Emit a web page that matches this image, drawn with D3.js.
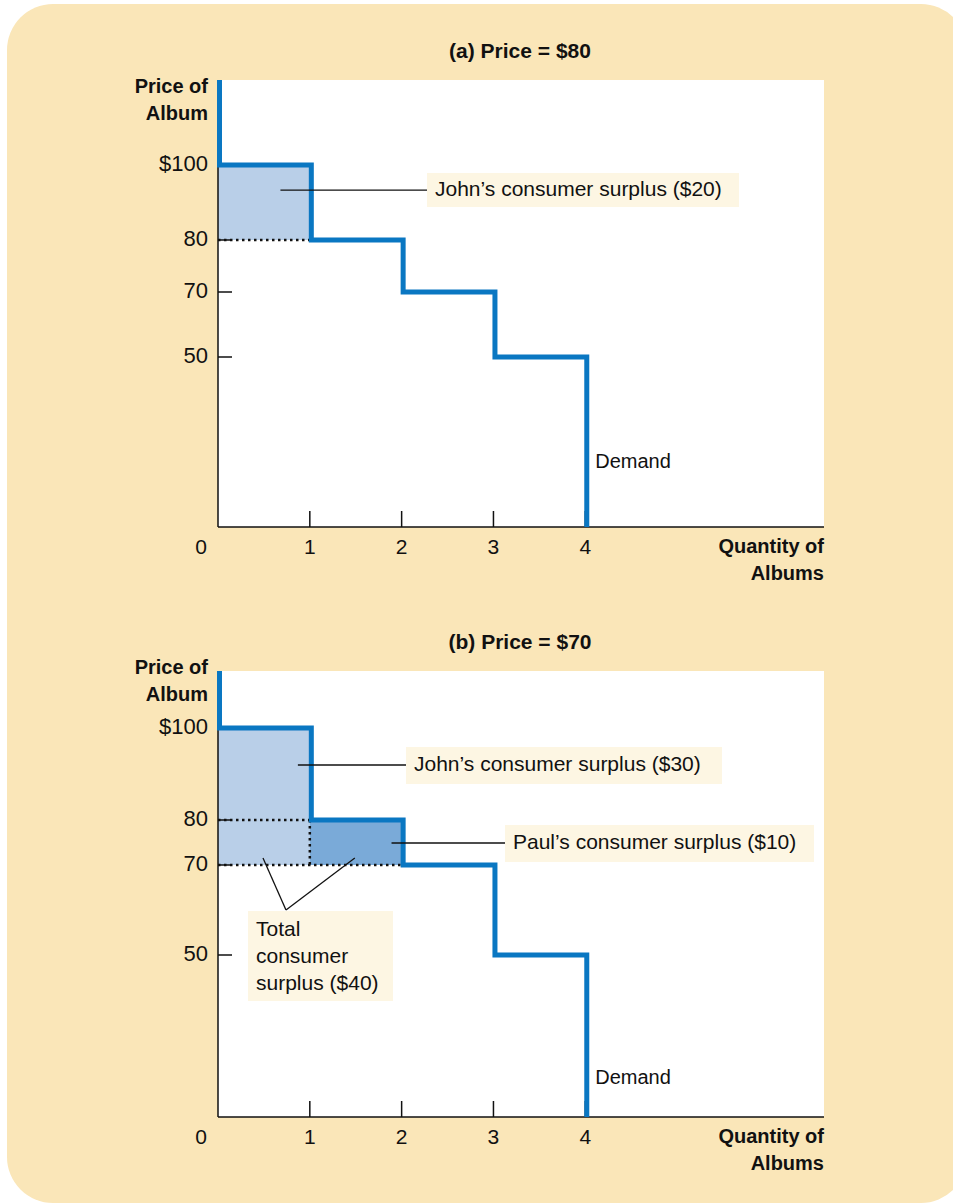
<!DOCTYPE html>
<html>
<head>
<meta charset="utf-8">
<script src="https://cdn.jsdelivr.net/npm/d3@7"></script>
<style>
  body { margin: 0; background: #fff; }
  svg text { font-family: "Liberation Sans", Arial, sans-serif; fill: #111; }
  .bold { font-family: "Liberation Sans Narrow", "Liberation Sans", Arial, sans-serif; font-weight: bold; }
</style>
</head>
<body>
<div id="wrapper"></div>
<script>
// willingness to pay of each buyer, one album each
const buyers = ["John", "Paul", "George", "Ringo"]
const willingness = [100, 80, 70, 50]
const xTicks = [0, 1, 2, 3, 4]
const yTicks = [100, 80, 70, 50]
const yTickLabels = ["$100", "80", "70", "50"]
const panelPrices = [80, 70]
const panelTitles = ["(a) Price = $80", "(b) Price = $70"]

const width = 953
const height = 1203

const svg = d3.select("#wrapper")
  .append("svg")
    .attr("width", width)
    .attr("height", height)

svg.append("rect")
    .attr("x", 7)
    .attr("y", 4)
    .attr("width", 960)
    .attr("height", 1199)
    .attr("rx", 46)
    .attr("fill", "#fae6b8")

const blue = "#0a77c2"
const lightFill = "#b9cfe8"
const darkFill = "#7aaad8"
const boxFill = "#fdf6e3"

// the price axis is a schematic, so the scale is piecewise
const panels = [
  { top: 80, bottom: 527, yStops: [527, 357, 292, 240, 165, 80], titleY: 52, yTitleOff: 8, demandOff: 64 },
  { top: 671, bottom: 1117, yStops: [1117, 955, 865, 820, 728, 671], titleY: 643, yTitleOff: -2, demandOff: 38 },
]

const xScale = d3.scaleLinear()
  .domain([0, 6.6])
  .range([218, 824])

function drawPanel(p, i) {
  const price = panelPrices[i]
  const yScale = d3.scaleLinear()
    .domain([0, 50, 70, 80, 100, 125])
    .range(p.yStops)
  const g = svg.append("g")

  g.append("rect")
      .attr("x", xScale(0))
      .attr("y", p.top)
      .attr("width", xScale.range()[1] - xScale(0))
      .attr("height", p.bottom - p.top)
      .attr("fill", "#fff")

  g.append("text")
      .attr("class", "bold")
      .attr("x", 520)
      .attr("y", p.titleY)
      .attr("text-anchor", "middle")
      .attr("dominant-baseline", "middle")
      .style("font-size", "21px")
      .text(panelTitles[i])

  // consumer surplus rectangles
  const surplus = willingness
    .map((w, j) => ({ buyer: buyers[j], q: j, w }))
    .filter(d => d.w > price)
  g.selectAll(".cs")
    .data(surplus)
    .join("rect")
      .attr("x", d => xScale(d.q))
      .attr("width", d => xScale(d.q + 1) - xScale(d.q))
      .attr("y", d => yScale(d.w))
      .attr("height", d => yScale(price) - yScale(d.w))
      .attr("fill", (d, j) => j == 0 ? lightFill : darkFill)

  // dotted lines: price level and lower steps inside the surplus area
  const dotted = g.append("g")
      .attr("stroke", "#111")
      .attr("stroke-width", 2.5)
      .attr("stroke-dasharray", "2.5,3.5")
  dotted.append("line")
      .attr("x1", xScale(0))
      .attr("x2", xScale(surplus.length))
      .attr("y1", yScale(price))
      .attr("y2", yScale(price))
  surplus.slice(1).forEach(d => {
    dotted.append("line")
        .attr("x1", xScale(0))
        .attr("x2", xScale(d.q))
        .attr("y1", yScale(d.w))
        .attr("y2", yScale(d.w))
    dotted.append("line")
        .attr("x1", xScale(d.q))
        .attr("x2", xScale(d.q))
        .attr("y1", yScale(d.w))
        .attr("y2", yScale(price))
  })

  // axes
  g.append("line")
      .attr("x1", xScale(0)).attr("x2", xScale(0))
      .attr("y1", p.top).attr("y2", p.bottom)
      .attr("stroke", "#111").attr("stroke-width", 1.5)
  g.append("line")
      .attr("x1", xScale(0)).attr("x2", xScale.range()[1])
      .attr("y1", p.bottom).attr("y2", p.bottom)
      .attr("stroke", "#111").attr("stroke-width", 1.5)

  g.selectAll(".ytick")
    .data(yTicks)
    .join("line")
      .attr("x1", xScale(0))
      .attr("x2", xScale(0) + 14)
      .attr("y1", d => yScale(d))
      .attr("y2", d => yScale(d))
      .attr("stroke", "#111")
      .attr("stroke-width", 1.5)
  g.selectAll(".ylabel")
    .data(yTicks)
    .join("text")
      .attr("x", xScale(0) - 10)
      .attr("y", d => yScale(d))
      .attr("text-anchor", "end")
      .attr("dominant-baseline", "middle")
      .style("font-size", "22px")
      .text((d, j) => yTickLabels[j])

  g.selectAll(".xtick")
    .data(xTicks.slice(1))
    .join("line")
      .attr("x1", d => xScale(d))
      .attr("x2", d => xScale(d))
      .attr("y1", p.bottom)
      .attr("y2", p.bottom - 16)
      .attr("stroke", "#111")
      .attr("stroke-width", 1.5)
  g.selectAll(".xlabel")
    .data(xTicks)
    .join("text")
      .attr("x", d => d == 0 ? xScale(0) - 17 : xScale(d))
      .attr("y", p.bottom + 21)
      .attr("text-anchor", "middle")
      .attr("dominant-baseline", "middle")
      .style("font-size", "21px")
      .text(d => d)

  // axis titles
  const yTitle = g.append("text")
      .attr("class", "bold")
      .attr("text-anchor", "end")
      .attr("dominant-baseline", "middle")
      .style("font-size", "20px")
  yTitle.append("tspan").attr("x", xScale(0) - 10).attr("y", p.top + p.yTitleOff).text("Price of")
  yTitle.append("tspan").attr("x", xScale(0) - 10).attr("y", p.top + p.yTitleOff + 27).text("Album")
  const xTitle = g.append("text")
      .attr("class", "bold")
      .attr("text-anchor", "end")
      .attr("dominant-baseline", "middle")
      .style("font-size", "20px")
  xTitle.append("tspan").attr("x", xScale.range()[1]).attr("y", p.bottom + 21).text("Quantity of")
  xTitle.append("tspan").attr("x", xScale.range()[1]).attr("y", p.bottom + 48).text("Albums")

  // demand step line
  const pts = [[0, 125]]
  willingness.forEach((w, j) => { pts.push([j, w]); pts.push([j + 1, w]) })
  pts.push([willingness.length, 0])
  g.append("path")
      .attr("d", d3.line().x(d => xScale(d[0]) + 1.5).y(d => yScale(d[1]))(pts))
      .attr("fill", "none")
      .attr("stroke", blue)
      .attr("stroke-width", 5)
      .attr("stroke-linejoin", "miter")

  g.append("text")
      .attr("x", xScale(willingness.length) + 10)
      .attr("y", yScale(0) - p.demandOff)
      .attr("dominant-baseline", "middle")
      .style("font-size", "20px")
      .text("Demand")

  return { g, yScale, surplus }
}

function labelBox(g, x, y, w, h, lines) {
  g.append("rect")
      .attr("x", x).attr("y", y)
      .attr("width", w).attr("height", h)
      .attr("fill", boxFill)
  lines.forEach((t, j) => {
    g.append("text")
        .attr("x", x + 8)
        .attr("y", y + h / 2 / lines.length + j * 27 + (lines.length > 1 ? 4 : 0))
        .attr("dominant-baseline", "middle")
        .style("font-size", "21px")
        .text(t)
  })
}

function leader(g, x1, y1, x2, y2) {
  g.append("line")
      .attr("x1", x1).attr("y1", y1)
      .attr("x2", x2).attr("y2", y2)
      .attr("stroke", "#111")
      .attr("stroke-width", 1.3)
}

// panel (a)
const a = drawPanel(panels[0], 0)
leader(a.g, xScale(0.68), a.yScale(93.3), 428, a.yScale(93.3))
labelBox(a.g, 427, 173, 312, 34, [`${a.surplus[0].buyer}’s consumer surplus ($${a.surplus[0].w - panelPrices[0]})`])

// panel (b)
const b = drawPanel(panels[1], 1)
const johnB = b.surplus[0], paulB = b.surplus[1]
leader(b.g, xScale(0.87), 765, 406, 765)
labelBox(b.g, 406, 747, 316, 37, [`${johnB.buyer}’s consumer surplus ($${johnB.w - panelPrices[1]})`])
leader(b.g, xScale(1.89), 843, 505, 843)
labelBox(b.g, 505, 825, 309, 37, [`${paulB.buyer}’s consumer surplus ($${paulB.w - panelPrices[1]})`])
const total = d3.sum(b.surplus, d => d.w - panelPrices[1])
leader(b.g, xScale(0.49), 858, 286, 910)
leader(b.g, xScale(1.49), 858, 286, 910)
labelBox(b.g, 248, 911, 145, 90, ["Total", "consumer", `surplus ($${total})`])
</script>
</body>
</html>
